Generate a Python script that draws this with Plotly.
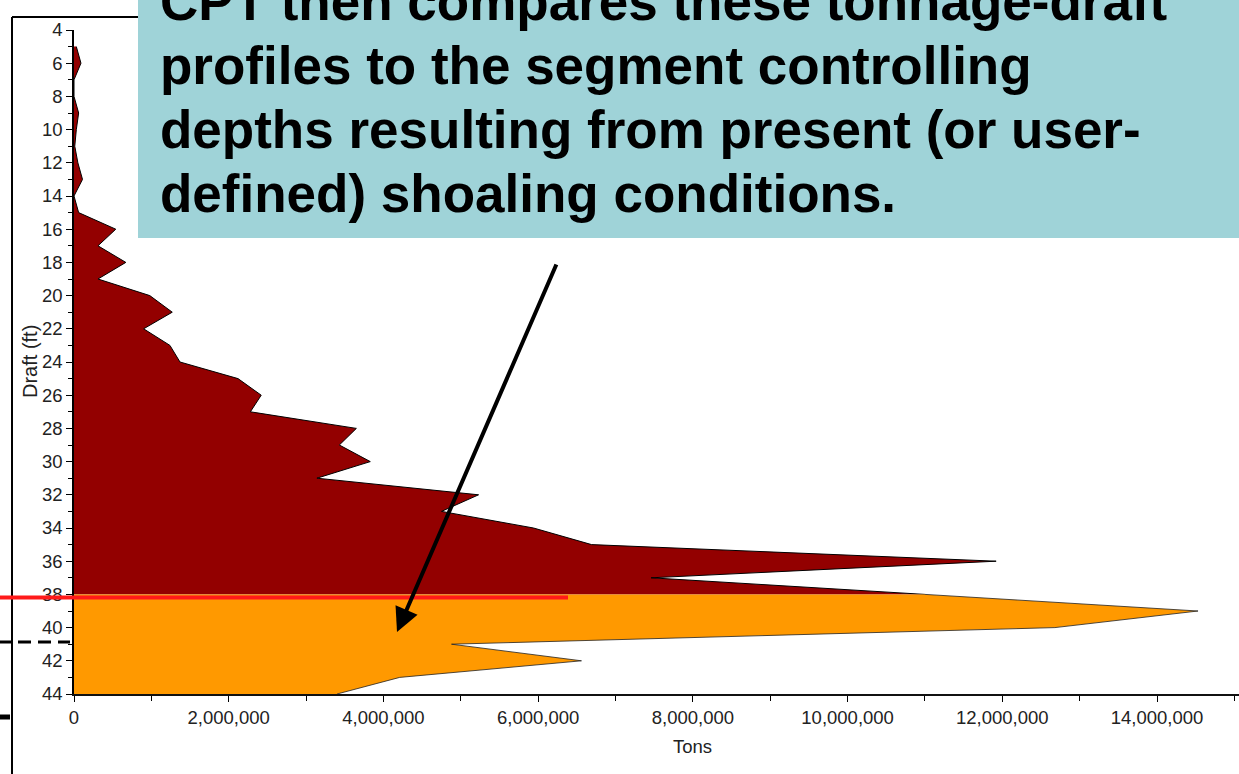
import plotly.graph_objects as go

# ---- data ----
drafts_ft = [5, 6, 7, 8, 9, 10, 11, 12, 13, 14, 15, 16, 17, 18, 19, 20, 21, 22, 23, 24,
             25, 26, 27, 28, 29, 30, 31, 32, 33, 34, 35, 36, 37, 38, 39, 40, 41, 42, 43, 44]
tons = [30_000, 90_000, 0, 0, 60_000, 30_000, 10_000, 50_000, 110_000, 0,
        60_000, 540_000, 310_000, 670_000, 310_000, 980_000, 1_270_000, 900_000, 1_240_000, 1_370_000,
        2_120_000, 2_420_000, 2_280_000, 3_650_000, 3_430_000, 3_830_000, 3_140_000, 5_230_000, 4_750_000, 5_940_000,
        6_690_000, 11_920_000, 7_460_000, 11_000_000, 14_530_000, 12_680_000, 4_880_000, 6_560_000, 4_210_000, 3_400_000]
controlling_depth = 38

y_ticks = list(range(4, 46, 2))
x_ticks = list(range(0, 16_000_000, 2_000_000))

text_lines = [
    "CPT then compares these tonnage-draft",
    "profiles to the segment controlling",
    "depths resulting from present (or user-",
    "defined) shoaling conditions.",
]

# ---- split profile at the controlling depth ----
up_d = [d for d in drafts_ft if d <= controlling_depth]
up_t = [t for d, t in zip(drafts_ft, tons) if d <= controlling_depth]
lo_d = [d for d in drafts_ft if d >= controlling_depth]
lo_t = [t for d, t in zip(drafts_ft, tons) if d >= controlling_depth]

W, H = 1239, 774
L, R, T, B = 74, 0, 30, 80
PW, PH = W - L - R, H - T - B


def px(x):
    return (x - L) / PW


def py(y):
    return (H - B - y) / PH


fig = go.Figure()
fig.add_trace(go.Scatter(x=up_t, y=up_d, mode="lines", fill="tozerox",
                         fillcolor="#930000", line=dict(color="black", width=1),
                         hoverinfo="skip", showlegend=False))
fig.add_trace(go.Scatter(x=lo_t, y=lo_d, mode="lines", fill="tozerox",
                         fillcolor="#FF9900", line=dict(color="#222", width=0.8),
                         hoverinfo="skip", showlegend=False))

tick_font = dict(family="Liberation Sans, Arial, sans-serif", size=18.5, color="#222")

fig.update_layout(
    width=W, height=H,
    margin=dict(l=L, r=R, t=T, b=B),
    paper_bgcolor="white", plot_bgcolor="white",
    showlegend=False,
    xaxis=dict(range=[0, (W - L) / 77.36 * 1e6], tickvals=x_ticks, tickformat=",",
               ticks="outside", ticklen=6, tickcolor="black", tickwidth=1,
               showline=True, linecolor="#111", linewidth=2, showgrid=False, zeroline=False,
               tickfont=tick_font,
               minor=dict(dtick=1_000_000, tick0=0, ticks="outside", ticklen=5, tickcolor="black")),
    yaxis=dict(range=[44, 4], tickvals=y_ticks,
               ticks="outside", ticklen=6, tickcolor="black", tickwidth=1,
               showline=True, linecolor="black", linewidth=1.5, showgrid=False, zeroline=False,
               tickfont=tick_font,
               minor=dict(dtick=1, tick0=4, ticks="outside", ticklen=4, tickcolor="black")),
)

shapes = [
    # slide frame lines
    dict(type="line", xref="paper", yref="paper", x0=px(12), x1=px(140), y0=py(17), y1=py(17),
         line=dict(color="black", width=2)),
    dict(type="line", xref="paper", yref="paper", x0=px(12), x1=px(12), y0=py(17), y1=py(H + 5),
         line=dict(color="black", width=2)),
    # controlling depth red line
    dict(type="line", xref="paper", yref="paper", x0=px(-2), x1=px(568), y0=py(597.5), y1=py(597.5),
         line=dict(color="#FF1A1A", width=4)),
    # dashed line
    dict(type="line", xref="paper", yref="paper", x0=px(-2), x1=px(70), y0=py(642), y1=py(642),
         line=dict(color="black", width=3, dash="13px,7px")),
    # short thick mark
    dict(type="line", xref="paper", yref="paper", x0=px(-2), x1=px(10), y0=py(717), y1=py(717),
         line=dict(color="black", width=5)),
    # text box
    dict(type="rect", xref="paper", yref="paper", x0=px(138), x1=px(W + 5), y0=py(238), y1=py(-5),
         fillcolor="#9FD3D8", line=dict(width=0), layer="above"),
]
fig.update_layout(shapes=shapes)

annotations = []
baselines = [20, 84, 148, 212]
for line, base in zip(text_lines, baselines):
    annotations.append(dict(xref="paper", yref="paper", x=px(158), y=py(base - 18.4),
                            xanchor="left", yanchor="middle", showarrow=False,
                            text="<b>" + line + "</b>",
                            font=dict(family="Liberation Sans, Arial, sans-serif", size=53, color="black")))
# axis titles
annotations.append(dict(xref="paper", yref="paper", x=px(692), y=py(747), xanchor="center", yanchor="middle",
                        showarrow=False, text="Tons",
                        font=dict(family="Liberation Sans, Arial, sans-serif", size=18.5, color="#222")))
annotations.append(dict(xref="paper", yref="paper", x=px(30), y=py(362), xanchor="center", yanchor="middle",
                        showarrow=False, text="Draft (ft)", textangle=-90,
                        font=dict(family="Liberation Sans, Arial, sans-serif", size=20, color="#222")))
# arrow
annotations.append(dict(xref="paper", yref="paper", x=px(397), y=py(632), ax=160, ay=-369,
                        axref="pixel", ayref="pixel", text="", showarrow=True,
                        arrowhead=2, arrowsize=1.2, arrowwidth=4, arrowcolor="black", standoff=0))
fig.update_layout(annotations=annotations)

fig.write_html("out.html", config={"displayModeBar": False},
               post_script="document.body.style.margin='0';document.body.style.overflow='hidden';")
